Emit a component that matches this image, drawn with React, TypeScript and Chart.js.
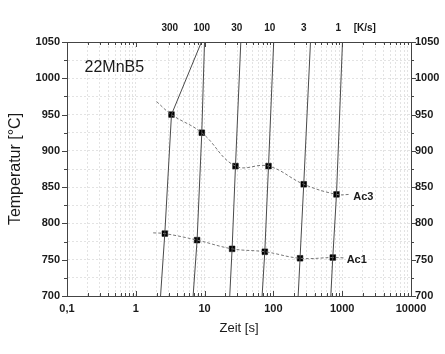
import { useEffect, useRef } from 'react';
import { Chart, registerables } from 'chart.js';

Chart.register(...registerables);

// ---- axis ranges / tick labels ----
const timeMin = 0.1;
const timeMax = 10000;
const tempMin = 700;
const tempMax = 1050;
const tempStep = 25;
const rateLabels = ['300', '100', '30', '10', '3', '1', '[K/s]'];
const rateLabelTimes = [3.12, 9.1, 29.4, 88.6, 277, 878, 2130];

// ---- measured transformation points ----
const ac3Times = [3.3, 9.1, 28.1, 84.9, 276, 826];
const ac3Temps = [950, 925, 879, 879, 854, 840];
const ac1Times = [2.64, 7.78, 25.1, 75, 244, 730];
const ac1Temps = [786, 777, 765, 761, 752, 753];

// dashed fit curves: start and end beyond the measured points
const ac3CurveStart = { x: 2.0, y: 968 };
const ac3CurveEnd = { x: 1320, y: 840 };
const ac1CurveStart = { x: 1.79, y: 787 };
const ac1CurveEnd = { x: 1095, y: 752.5 };

// cooling curves: time at 700 °C and at 1050 °C
const coolBottomTimes = [2.29, 6.81, 23.2, 68.5, 229, 683];
const coolTopTimes = [9.0, 9.97, 33.6, 101, 346, 1010];

// text annotations
const noteTexts = ['22MnB5', 'Ac3', 'Ac1'];
const noteTimes = [0.18, 1450, 1160];
const noteTemps = [1008.5, 836, 749.6];

const FONT = "'Liberation Sans', Arial, Helvetica, sans-serif";

const xTickValues: number[] = [];
for (let e = -1; e <= 3; e++) {
  for (let m = 1; m <= 9; m++) xTickValues.push(+(m * Math.pow(10, e)).toPrecision(6));
}
xTickValues.push(10000);

const isDecade = (v: number) => Math.abs(Math.log10(v) - Math.round(Math.log10(v))) < 1e-9;

const framePlugin = {
  id: 'frameTicks',
  afterDraw(chart: any) {
    const { ctx, chartArea, scales } = chart;
    const { left, right, top, bottom } = chartArea;
    ctx.save();
    ctx.strokeStyle = '#444';
    ctx.lineWidth = 1;
    ctx.beginPath();
    for (const v of xTickValues) {
      const px = Math.round(scales.x.getPixelForValue(v)) + 0.5;
      const len = isDecade(v) ? 5 : 3;
      ctx.moveTo(px, bottom);
      ctx.lineTo(px, bottom - len);
      ctx.moveTo(px, top);
      ctx.lineTo(px, top + len);
    }
    for (let t = tempMin; t <= tempMax; t += tempStep) {
      const py = Math.round(scales.y.getPixelForValue(t)) + 0.5;
      const len = t % 50 === 0 ? 5 : 3;
      ctx.moveTo(left, py);
      ctx.lineTo(left - len, py);
      ctx.moveTo(right, py);
      ctx.lineTo(right + len, py);
    }
    ctx.stroke();

    ctx.fillStyle = '#1a1a1a';
    noteTexts.forEach((txt, i) => {
      const px = scales.x.getPixelForValue(noteTimes[i]);
      const py = scales.y.getPixelForValue(noteTemps[i]);
      if (i === 0) {
        ctx.font = `16px ${FONT}`;
        ctx.textBaseline = 'alphabetic';
      } else {
        ctx.font = `bold 11px ${FONT}`;
        ctx.textBaseline = 'middle';
      }
      ctx.textAlign = 'left';
      ctx.fillText(txt, px, py);
    });
    ctx.restore();
  },
};

export default function App() {
  const ref = useRef<HTMLCanvasElement | null>(null);

  useEffect(() => {
    if (!ref.current) return;

    const coolingSets = coolBottomTimes.map((bt, i) => ({
      data: [
        { x: bt, y: tempMin },
        { x: ac1Times[i], y: ac1Temps[i] },
        { x: ac3Times[i], y: ac3Temps[i] },
        { x: coolTopTimes[i], y: tempMax },
      ],
      showLine: true,
      borderColor: '#4a4a4a',
      borderWidth: 1,
      pointRadius: 0,
      tension: 0,
    }));

    const ac3Points = ac3Times.map((t, i) => ({ x: t, y: ac3Temps[i] }));
    const ac1Points = ac1Times.map((t, i) => ({ x: t, y: ac1Temps[i] }));

    const chart = new Chart(ref.current, {
      type: 'scatter',
      data: {
        datasets: [
          ...coolingSets,
          {
            data: [ac3CurveStart, ...ac3Points, ac3CurveEnd],
            showLine: true,
            borderColor: '#777',
            borderWidth: 1,
            borderDash: [3, 2],
            pointRadius: 0,
            tension: 0.4,
          },
          {
            data: [ac1CurveStart, ...ac1Points, ac1CurveEnd],
            showLine: true,
            borderColor: '#777',
            borderWidth: 1,
            borderDash: [3, 2],
            pointRadius: 0,
            tension: 0.4,
          },
          {
            data: ac3Points,
            showLine: false,
            pointStyle: 'rect',
            pointRadius: 4,
            backgroundColor: '#000',
            borderColor: '#000',
            borderWidth: 0.5,
          },
          {
            data: ac1Points,
            showLine: false,
            pointStyle: 'rect',
            pointRadius: 4,
            backgroundColor: '#000',
            borderColor: '#000',
            borderWidth: 0.5,
          },
        ] as any,
      },
      options: {
        responsive: false,
        animation: false,
        events: [],
        layout: { padding: 0 },
        plugins: { legend: { display: false }, tooltip: { enabled: false } },
        scales: {
          x: {
            type: 'logarithmic',
            position: 'bottom',
            min: timeMin,
            max: timeMax,
            afterBuildTicks: (s: any) => {
              s.ticks = xTickValues.map((v) => ({ value: v }));
            },
            afterFit: (s: any) => {
              s.height = 58;
            },
            ticks: {
              autoSkip: false,
              maxRotation: 0,
              minRotation: 0,
              padding: 6,
              color: '#1a1a1a',
              font: { family: FONT, size: 11, weight: 'bold' },
              callback: (v: any) => (isDecade(Number(v)) ? String(Number(v)).replace('.', ',') : ''),
            },
            grid: { color: '#e3e3e3', lineWidth: 1, drawTicks: false },
            border: { display: true, color: '#444', width: 1, dash: [2, 2] },
            title: {
              display: true,
              text: 'Zeit [s]',
              color: '#1a1a1a',
              font: { family: FONT, size: 13 },
              padding: { top: 0, bottom: 18 },
            },
          },
          x2: {
            type: 'logarithmic',
            position: 'top',
            min: timeMin,
            max: timeMax,
            afterBuildTicks: (s: any) => {
              s.ticks = rateLabelTimes.map((v) => ({ value: v }));
            },
            afterFit: (s: any) => {
              s.height = 42;
            },
            ticks: {
              autoSkip: false,
              maxRotation: 0,
              minRotation: 0,
              padding: 8,
              color: '#1a1a1a',
              font: { family: FONT, size: 10, weight: 'bold' },
              callback: (_v: any, i: number) => rateLabels[i],
            },
            grid: { display: false, drawOnChartArea: false, drawTicks: false },
            border: { display: true, color: '#444', width: 1 },
          },
          y: {
            type: 'linear',
            position: 'left',
            min: tempMin,
            max: tempMax,
            afterFit: (s: any) => {
              s.width = 67;
            },
            ticks: {
              stepSize: tempStep,
              autoSkip: false,
              padding: 7,
              color: '#1a1a1a',
              font: { family: FONT, size: 11, weight: 'bold' },
              callback: (v: any) => (Number(v) % 50 === 0 ? String(v) : ''),
            },
            grid: { color: '#e3e3e3', lineWidth: 1, drawTicks: false },
            border: { display: true, color: '#444', width: 1, dash: [2, 2] },
            title: {
              display: true,
              text: 'Temperatur [°C]',
              color: '#1a1a1a',
              font: { family: FONT, size: 16 },
              padding: { top: 6, bottom: 0 },
            },
          },
          y2: {
            type: 'linear',
            position: 'right',
            min: tempMin,
            max: tempMax,
            afterFit: (s: any) => {
              s.width = 34;
            },
            ticks: {
              stepSize: tempStep,
              autoSkip: false,
              padding: 4,
              color: '#1a1a1a',
              font: { family: FONT, size: 11, weight: 'bold' },
              callback: (v: any) => (Number(v) % 50 === 0 ? String(v) : ''),
            },
            grid: { display: false, drawOnChartArea: false, drawTicks: false },
            border: { display: true, color: '#444', width: 1 },
          },
        },
      } as any,
      plugins: [framePlugin],
    });

    return () => chart.destroy();
  }, []);

  return (
    <div style={{ position: 'absolute', left: 0, top: 0, width: 445, height: 354, background: '#fff' }}>
      <canvas ref={ref} width={445} height={354} style={{ display: 'block' }} />
    </div>
  );
}
